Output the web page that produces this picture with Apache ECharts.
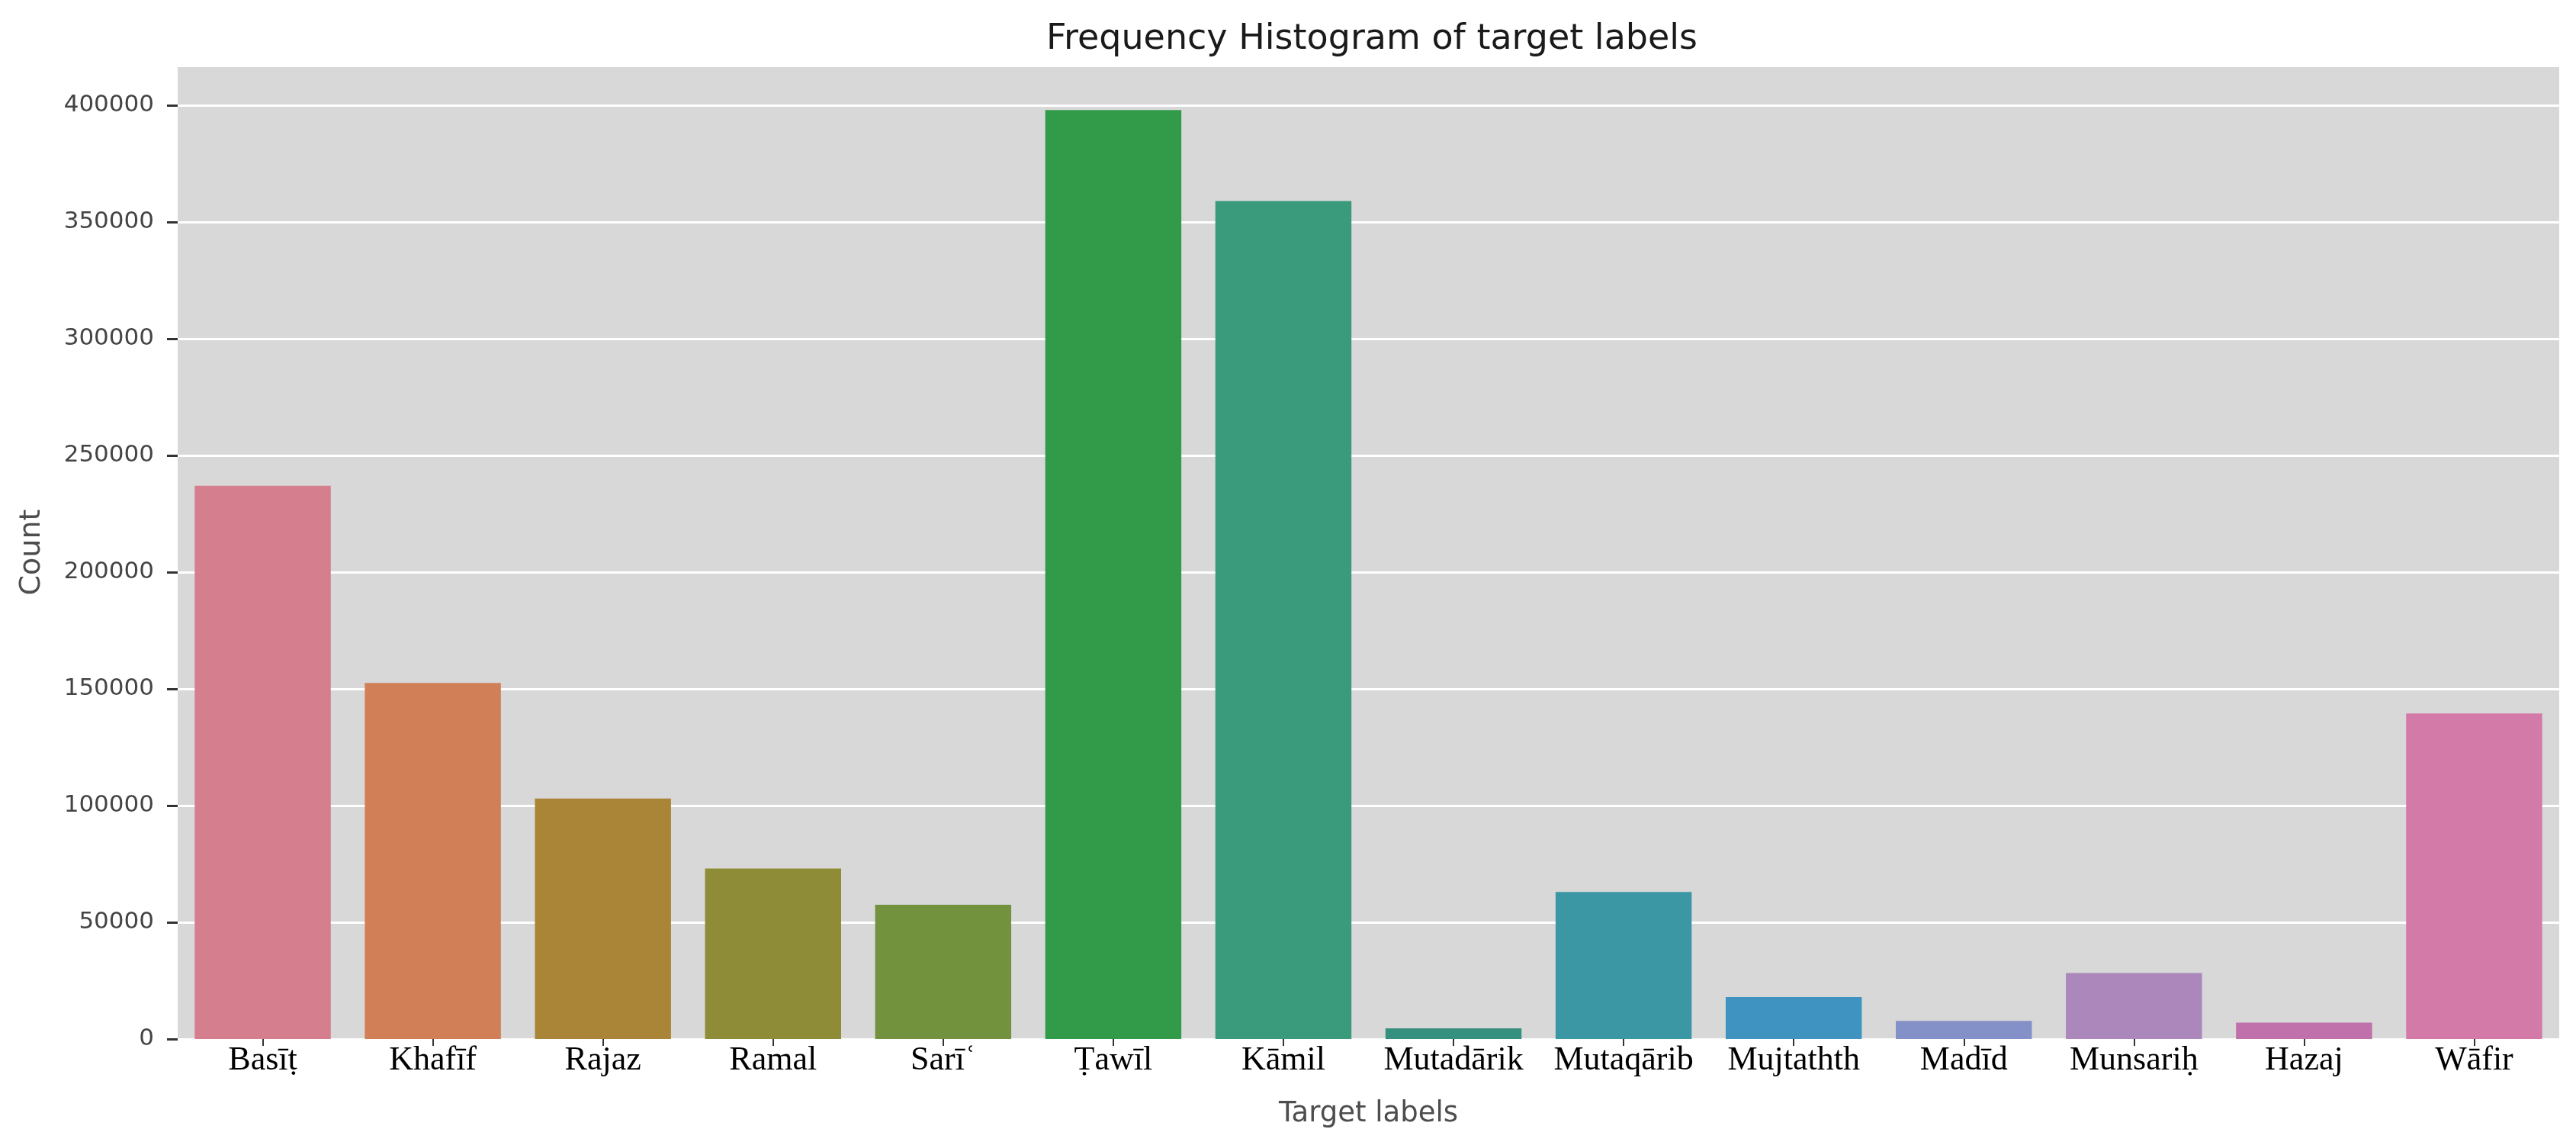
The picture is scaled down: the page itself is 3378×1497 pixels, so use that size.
<!DOCTYPE html>
<html>
<head>
<meta charset="utf-8">
<script src="https://cdn.jsdelivr.net/npm/echarts@6/dist/echarts.min.js"></script>
<style>html,body{margin:0;padding:0;background:#fff;}#c{width:3378px;height:1497px;}</style>
</head>
<body>
<div id="c"></div>
<script>
const categories = ["Basīṭ","Khafīf","Rajaz","Ramal","Sarīʿ","Ṭawīl","Kāmil","Mutadārik","Mutaqārib","Mujtathth","Madīd","Munsariḥ","Hazaj","Wāfir"];
const counts = [237000,152500,103000,73000,57500,398000,359000,4600,63000,18000,7800,28300,7000,139500];
const barColors = ["#d57e8d","#d07f56","#aa8538","#8f8c37","#73923e","#319b4a","#3a9a7c","#36907f","#3c97a5","#3f93c0","#8491c8","#ab87bb","#c070aa","#d47aa8"];
const yTicks = [0,50000,100000,150000,200000,250000,300000,350000,400000];

const chart = echarts.init(document.getElementById('c'), null, {renderer:'canvas'});
chart.setOption({
  animation:false,
  backgroundColor:'#ffffff',
  title:{text:'Frequency Histogram of target labels',left:1794,textAlign:'center',top:24,
    textStyle:{fontFamily:'DejaVu Sans',fontSize:46,fontWeight:'normal',color:'#1a1a1a'}},
  grid:{left:233,right:22,top:86,bottom:135,show:true,backgroundColor:'#d8d8d8',borderWidth:0,containLabel:false},
  xAxis:{type:'category',data:categories,
    name:'Target labels',nameLocation:'middle',nameGap:80,
    nameTextStyle:{fontFamily:'DejaVu Sans',fontSize:37,color:'#4d4d4d'},
    axisLine:{show:false},
    axisTick:{show:true,alignWithLabel:true,length:9,lineStyle:{color:'#333',width:2}},
    axisLabel:{fontFamily:'Liberation Serif',fontSize:44,color:'#000',margin:6,interval:0}},
  yAxis:{type:'value',min:0,max:417000,interval:50000,
    name:'Count',nameLocation:'middle',nameGap:172,nameRotate:90,
    nameTextStyle:{fontFamily:'DejaVu Sans',fontSize:38,color:'#4d4d4d'},
    axisLine:{show:false},
    axisTick:{show:true,length:14,lineStyle:{color:'#333',width:3}},
    axisLabel:{fontFamily:'DejaVu Sans',fontSize:31,color:'#444',margin:31,showMaxLabel:false,
      formatter:function(v){return yTicks.indexOf(v)>=0?String(v):'';}},
    splitLine:{show:true,lineStyle:{color:'#ffffff',width:3}}},
  series:[{type:'bar',barCategoryGap:'20%',
    data:counts.map(function(v,i){return {value:v,itemStyle:{color:barColors[i]}};})}]
});
</script>
</body>
</html>
